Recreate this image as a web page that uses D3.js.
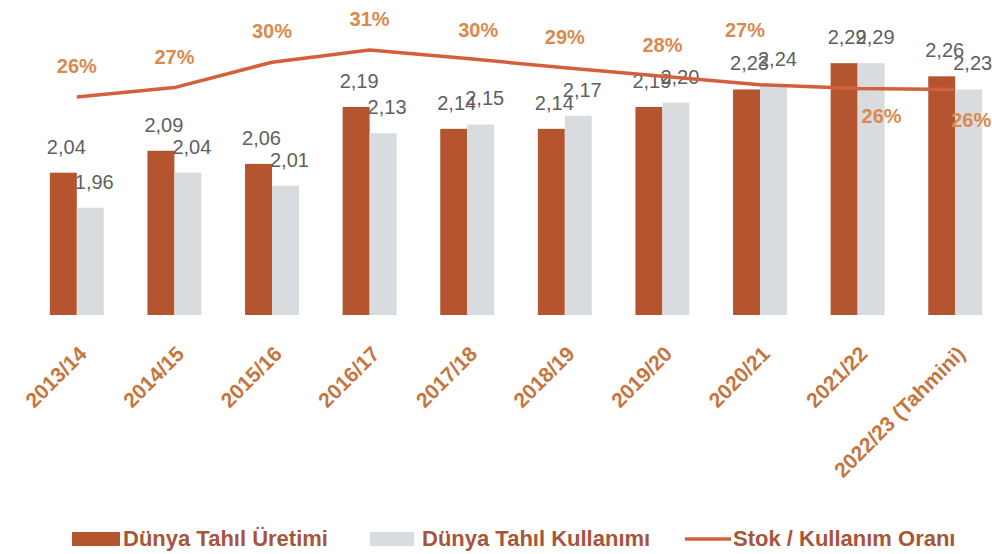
<!DOCTYPE html>
<html>
<head>
<meta charset="utf-8">
<script src="https://cdn.jsdelivr.net/npm/d3@7"></script>
<style>
  html, body { margin: 0; padding: 0; background: #fff; }
  svg { display: block; font-family: 'Liberation Sans', Arial, sans-serif; }
</style>
</head>
<body>
<div id="chart"></div>
<script>
var seasons = ['2013/14', '2014/15', '2015/16', '2016/17', '2017/18', '2018/19', '2019/20', '2020/21', '2021/22', '2022/23 (Tahmini)']
var production = [2.04, 2.09, 2.06, 2.19, 2.14, 2.14, 2.19, 2.23, 2.29, 2.26]
var consumption = [1.96, 2.04, 2.01, 2.13, 2.15, 2.17, 2.2, 2.24, 2.29, 2.23]
var stockRatio = [26.0, 27.0, 29.7, 31.0, 30.1, 29.1, 28.2, 27.3, 26.9, 26.8]
var stockLabels = ['26%', '27%', '30%', '31%', '30%', '29%', '28%', '27%', '26%', '26%']
var legendNames = ['Dünya Tahıl Üretimi', 'Dünya Tahıl Kullanımı', 'Stok / Kullanım Oranı']

var width = 992
var height = 554

var colorProd = '#b5552f'
var colorCons = '#d9dcdf'
var colorLine = '#d2603c'

var svg = d3
  .select('#chart')
  .append('svg')
  .attr('width', width)
  .attr('height', height)

var xPositionScale = d3
  .scaleBand()
  .domain(seasons)
  .range([28, 1004])
  .padding(0)

var xInner = d3
  .scaleBand()
  .domain(['prod', 'cons'])
  .range([0, xPositionScale.bandwidth()])
  .paddingInner(0)
  .paddingOuter(0.81)

var yPositionScale = d3
  .scaleLinear()
  .domain([1.715, 2.4])
  .range([315, 15])

var yRatioScale = d3
  .scaleLinear()
  .domain([20, 35])
  .range([153.4, 12.4])

var rows = seasons.map(function(s, i) {
  return { season: s, prod: production[i], cons: consumption[i], ratio: stockRatio[i], label: stockLabels[i] }
})

// bars
var groups = svg
  .selectAll('.group')
  .data(rows)
  .enter()
  .append('g')
  .attr('class', 'group')
  .attr('transform', function(d) {
    return 'translate(' + xPositionScale(d.season) + ',0)'
  })

groups
  .append('rect')
  .attr('x', xInner('prod'))
  .attr('width', xInner.bandwidth())
  .attr('y', d => yPositionScale(d.prod))
  .attr('height', d => yPositionScale.range()[0] - yPositionScale(d.prod))
  .attr('fill', colorProd)

groups
  .append('rect')
  .attr('x', xInner('cons'))
  .attr('width', xInner.bandwidth())
  .attr('y', d => yPositionScale(d.cons))
  .attr('height', d => yPositionScale.range()[0] - yPositionScale(d.cons))
  .attr('fill', colorCons)

// line
var line = d3
  .line()
  .x(d => xPositionScale(d.season) + xPositionScale.bandwidth() / 2)
  .y(d => yRatioScale(d.ratio))

svg
  .append('path')
  .datum(rows)
  .attr('d', line)
  .attr('fill', 'none')
  .attr('stroke', colorLine)
  .attr('stroke-width', 3.5)
  .attr('stroke-linejoin', 'round')

// bar value labels
var fmt = function(v) {
  return d3.format('.2f')(v).replace('.', ',')
}

groups
  .append('text')
  .text(d => fmt(d.prod))
  .attr('x', xInner('prod') + xInner.bandwidth() / 2 + 3)
  .attr('y', d => yPositionScale(d.prod) - 19)
  .attr('text-anchor', 'middle')
  .attr('font-size', 20)
  .attr('fill', '#5f5f5f')

groups
  .append('text')
  .text(d => fmt(d.cons))
  .attr('x', xInner('cons') + xInner.bandwidth() / 2 + 4)
  .attr('y', d => yPositionScale(d.cons) - 19)
  .attr('text-anchor', 'middle')
  .attr('font-size', 20)
  .attr('fill', '#5f5f5f')

// ratio labels, a few nudged like in the original
var nudge = { 4: [11, -21], 7: [-15, -48], 8: [24, 34], 9: [16, 38] }
groups
  .append('text')
  .text(d => d.label)
  .attr('x', function(d, i) {
    var n = nudge[i] || [0, -24]
    return xPositionScale.bandwidth() / 2 + n[0]
  })
  .attr('y', function(d, i) {
    var n = nudge[i] || [0, -24]
    return yRatioScale(d.ratio) + n[1]
  })
  .attr('text-anchor', 'middle')
  .attr('font-size', 20)
  .attr('font-weight', 'bold')
  .attr('fill', '#d98a4e')

// x axis labels, rotated
var xAxis = d3.axisBottom(xPositionScale).tickSize(0).tickPadding(0)
var axisG = svg
  .append('g')
  .attr('class', 'axis x-axis')
  .attr('transform', 'translate(0,350)')
  .call(xAxis)

axisG.select('.domain').remove()
axisG
  .selectAll('text')
  .attr('transform', 'translate(6,0) rotate(-45)')
  .attr('text-anchor', 'end')
  .attr('dy', '0.35em')
  .attr('y', 0)
  .attr('font-size', 21)
  .attr('font-weight', 'bold')
  .attr('font-family', "'Liberation Sans', Arial, sans-serif")
  .attr('fill', '#c5763f')

// legend
var legendX = [72, 370, 685]
var legend = svg
  .selectAll('.legend')
  .data(legendNames)
  .enter()
  .append('g')
  .attr('class', 'legend')
  .attr('transform', (d, i) => 'translate(' + legendX[i] + ',539)')

legend
  .filter((d, i) => i < 2)
  .append('rect')
  .attr('x', 0)
  .attr('y', -7)
  .attr('width', (d, i) => (i === 0 ? 48 : 44))
  .attr('height', 14)
  .attr('fill', (d, i) => (i === 0 ? colorProd : colorCons))

legend
  .filter((d, i) => i === 2)
  .append('line')
  .attr('x1', 0)
  .attr('x2', 46)
  .attr('y1', 0)
  .attr('y2', 0)
  .attr('stroke', colorLine)
  .attr('stroke-width', 3.5)

legend
  .append('text')
  .text(d => d)
  .attr('x', (d, i) => [51, 52, 48][i])
  .attr('y', 7)
  .attr('font-size', 22)
  .attr('font-weight', 'bold')
  .attr('fill', '#a8543a')
</script>
</body>
</html>
